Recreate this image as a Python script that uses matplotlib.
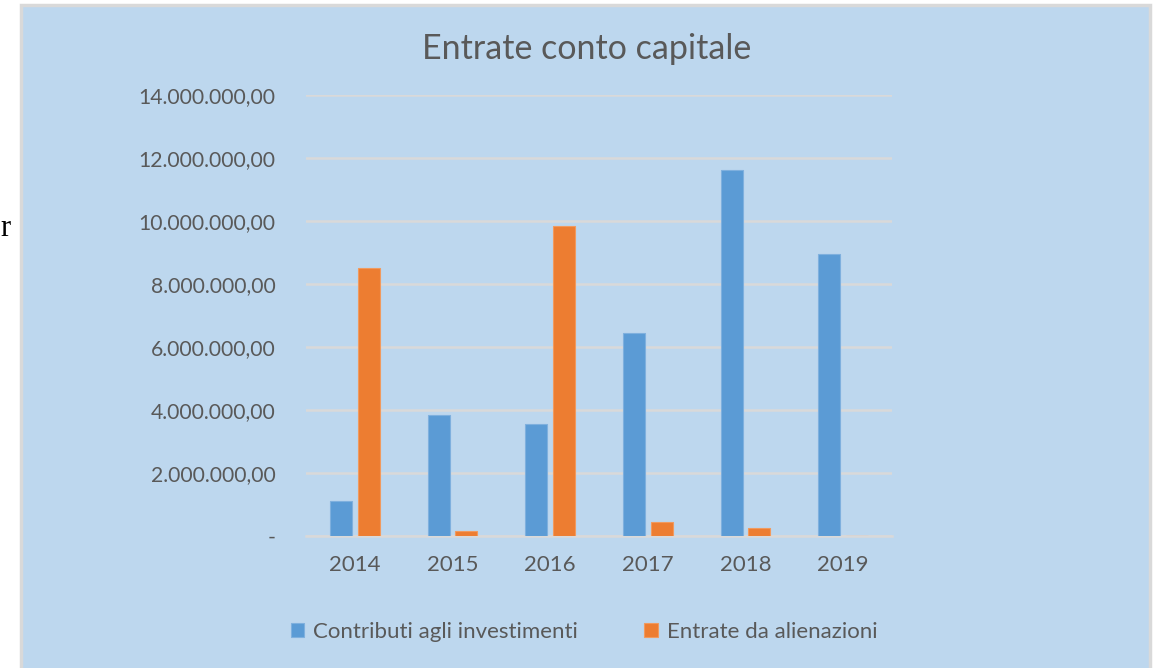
import matplotlib
matplotlib.use("Agg")
import matplotlib.pyplot as plt
import numpy as np
from matplotlib.patches import Rectangle
from matplotlib.ticker import FuncFormatter

# --- Daten ---
anni = ["2014", "2015", "2016", "2017", "2018", "2019"]
contributi = [1110000, 3850000, 3550000, 6430000, 11620000, 8950000]
alienazioni = [8510000, 160000, 9850000, 450000, 240000, 0]
serie_nomi = ["Contributi agli investimenti", "Entrate da alienazioni"]
y_ticks = [0, 2000000, 4000000, 6000000, 8000000, 10000000, 12000000, 14000000]

BLU = "#5B9BD5"
ARANCIO = "#ED7D31"
SFONDO = "#BDD7EE"
GRIGLIA = "#D9D9D9"
TESTO = "#595959"

plt.rcParams["font.family"] = ["Lato", "DejaVu Sans"]

fig = plt.figure(figsize=(11.65, 6.68), dpi=100)
fig.patch.set_facecolor("white")

# Hintergrund-Achse fuer den Rahmen
bg = fig.add_axes([0, 0, 1, 1], zorder=-5)
bg.set_xlim(0, 1165)
bg.set_ylim(668, 0)
bg.axis("off")
bg.add_patch(Rectangle((21, 5), 1150 - 21, 680, facecolor=SFONDO,
                       edgecolor=GRIGLIA, linewidth=2.5))
# Artefakt links
bg.text(0, 229, "r", family="Liberation Serif", fontsize=22,
        color="black", va="center", ha="left")

ax = fig.add_axes([306 / 1165, 1 - 536 / 668, (892 - 306) / 1165, (536 - 95) / 668])
ax.patch.set_visible(False)

x = np.arange(len(anni))
w = 0.225
off = 0.143
ax.bar(x - off, contributi, w, color=BLU, edgecolor="#7FB0DE", linewidth=0.8,
       label=serie_nomi[0], zorder=3)
ax.bar(x + off, alienazioni, w, color=ARANCIO, edgecolor="#F19A5E", linewidth=0.8,
       label=serie_nomi[1], zorder=3)

ax.set_xlim(-0.5, len(anni) - 0.5)
ax.set_ylim(0, 14000000)
ax.set_xticks(x)
ax.set_xticklabels(anni)
ax.set_yticks(y_ticks)


def fmt(v, pos):
    if v == 0:
        return "-"
    s = f"{int(v):,}".replace(",", ".")
    return s + ",00"


ax.yaxis.set_major_formatter(FuncFormatter(fmt))
ax.tick_params(axis="both", length=0, labelsize=16, colors=TESTO)
ax.tick_params(axis="y", labelsize=15.2, pad=22)
ax.tick_params(axis="x", pad=14)
ax.grid(axis="y", color=GRIGLIA, linewidth=1.8, zorder=0)
for s in ["top", "right", "left"]:
    ax.spines[s].set_visible(False)
ax.spines["bottom"].set_color(GRIGLIA)
ax.spines["bottom"].set_linewidth(1.8)

fig.text(587 / 1165, 1 - 49 / 668, "Entrate conto capitale", ha="center", va="center",
         fontsize=24.5, color=TESTO)

leg = fig.legend(loc="center", bbox_to_anchor=(584 / 1165, 1 - 632 / 668), ncol=2,
                 frameon=False, fontsize=16, labelcolor=TESTO, handlelength=0.6,
                 handleheight=0.6, handletextpad=0.4, columnspacing=3.0)

fig.savefig("out.png", dpi=100, facecolor=fig.get_facecolor())
